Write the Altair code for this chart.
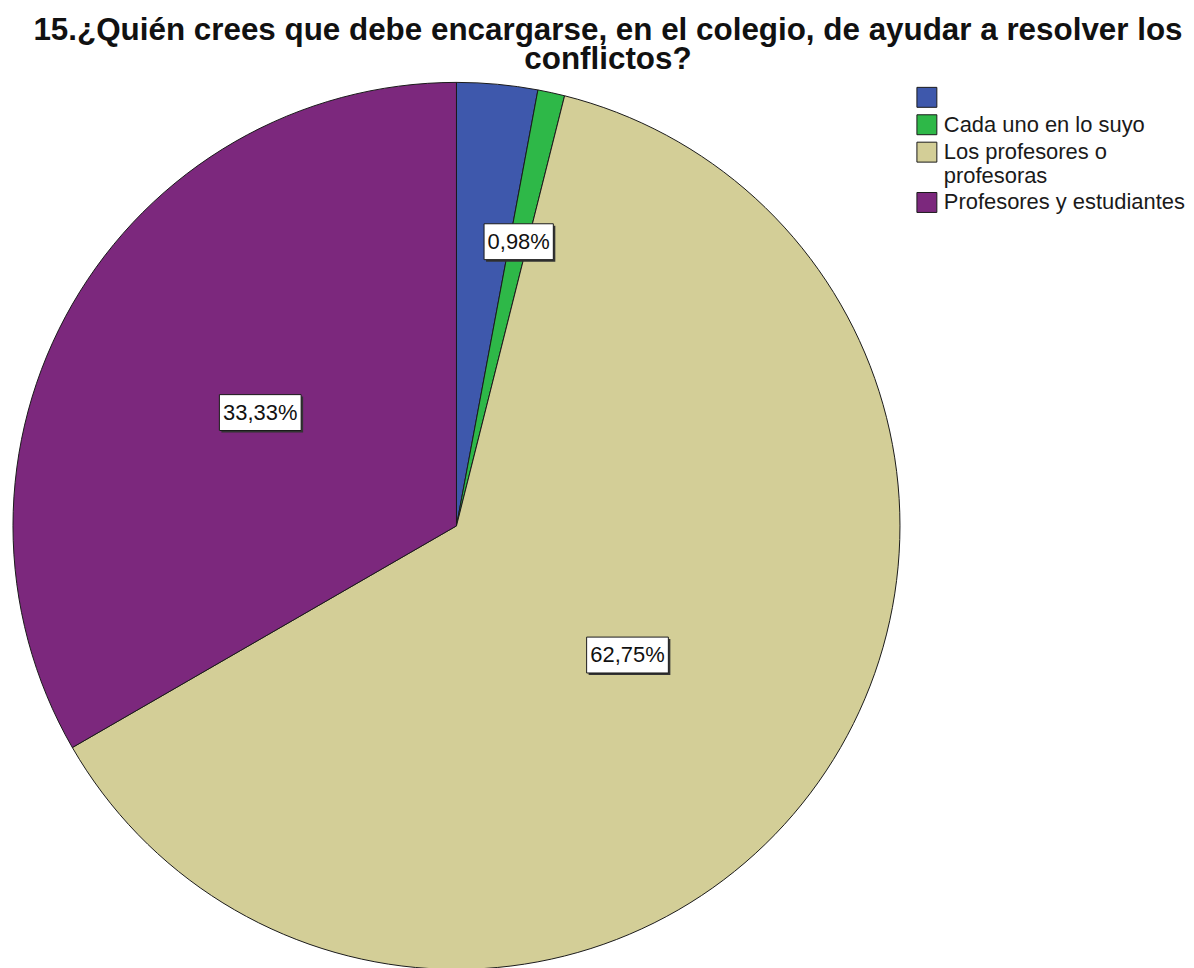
import altair as alt
import pandas as pd

categories = ["", "Cada uno en lo suyo", "Los  profesores o profesoras", "Profesores y estudiantes"]
percentages = [2.94, 0.98, 62.75, 33.33]
colors = ["#3E58AC", "#2EB848", "#D3CE97", "#7C287D"]
order_idx = [0, 1, 2, 3]

R = 445
FONT = "Liberation Sans, Arial, sans-serif"

df = pd.DataFrame({"cat": categories, "value": percentages, "idx": order_idx})
base = alt.Chart(df)

color_scale = alt.Scale(domain=categories, range=colors)

pie = base.mark_arc(stroke="#1a1a1a", strokeWidth=1).encode(
    theta=alt.Theta("value:Q", stack=True),
    color=alt.Color(
        "cat:N",
        scale=color_scale,
        sort=categories,
        legend=alt.Legend(
            title=None,
            orient="none",
            legendX=906,
            legendY=4,
            symbolType="square",
            symbolSize=400,
            symbolStrokeColor="#1a1a1a",
            symbolStrokeWidth=1,
            symbolOpacity=1,
            labelFont=FONT,
            labelFontSize=22,
            labelColor="#1a1a1a",
            labelOffset=6,
            labelLimit=400,
            rowPadding=3.5,
            labelExpr="datum.label == 'Los  profesores o profesoras' ? ['Los  profesores o', 'profesoras'] : datum.label",
        ),
    ),
    order=alt.Order("idx:Q"),
)

labels_base = (
    base.transform_joinaggregate(total="sum(value)")
    .transform_window(cum="sum(value)", sort=[alt.SortField("idx")], frame=[None, 0])
    .transform_filter("datum.cat != ''")
    .transform_calculate(
        frac="datum.value / datum.total",
        mid="(datum.cum - datum.value / 2) / datum.total * 2 * PI",
    )
    .transform_calculate(
        lr=f"{R} * (0.475 + 0.19 * exp(-datum.frac / 0.2))",
        txt="replace(format(datum.value, '.2f'), '.', ',') + '%'",
    )
    .transform_calculate(
        px="datum.lr * sin(datum.mid)",
        py="datum.lr * cos(datum.mid)",
        bw="12.5 * length(datum.txt) + 7",
    )
    .transform_calculate(
        x1="datum.px - datum.bw / 2",
        x2="datum.px + datum.bw / 2",
        y1="datum.py - 18",
        y2="datum.py + 18",
        sx1="datum.px - datum.bw / 2 + 2",
        sx2="datum.px + datum.bw / 2 + 2",
        sy1="datum.py - 18 - 2",
        sy2="datum.py + 18 - 2",
    )
)

xs = alt.Scale(domain=[-R, R], nice=False, zero=False)
ys = alt.Scale(domain=[-R, R], nice=False, zero=False)

shadow = labels_base.mark_rect(color="#333333").encode(
    x=alt.X("sx1:Q", scale=xs, axis=None),
    x2="sx2:Q",
    y=alt.Y("sy1:Q", scale=ys, axis=None),
    y2="sy2:Q",
)

box = labels_base.mark_rect(fill="white", stroke="#1a1a1a", strokeWidth=1).encode(
    x=alt.X("x1:Q", scale=xs, axis=None),
    x2="x2:Q",
    y=alt.Y("y1:Q", scale=ys, axis=None),
    y2="y2:Q",
)

text = labels_base.mark_text(
    font=FONT, fontSize=22, color="#111111", align="center", baseline="middle"
).encode(
    x=alt.X("px:Q", scale=xs, axis=None),
    y=alt.Y("py:Q", scale=ys, axis=None),
    text="txt:N",
)

chart = (
    alt.layer(pie, shadow, box, text)
    .properties(
        width=2 * R,
        height=2 * R,
        padding={"left": 3, "top": 5, "right": 0, "bottom": 0},
        title=alt.TitleParams(
            text=[
                "15.¿Quién crees que debe encargarse, en el colegio, de ayudar a resolver los",
                "conflictos?",
            ],
            font=FONT,
            fontSize=31.5,
            fontWeight="bold",
            color="#111111",
            lineHeight=29,
            anchor="middle",
            dx=152,
            offset=5,
        ),
    )
    .configure(background="white", view=alt.ViewConfig(stroke="transparent", strokeWidth=0))
)

chart.save("out.html", embed_options={"renderer": "svg", "actions": False})
